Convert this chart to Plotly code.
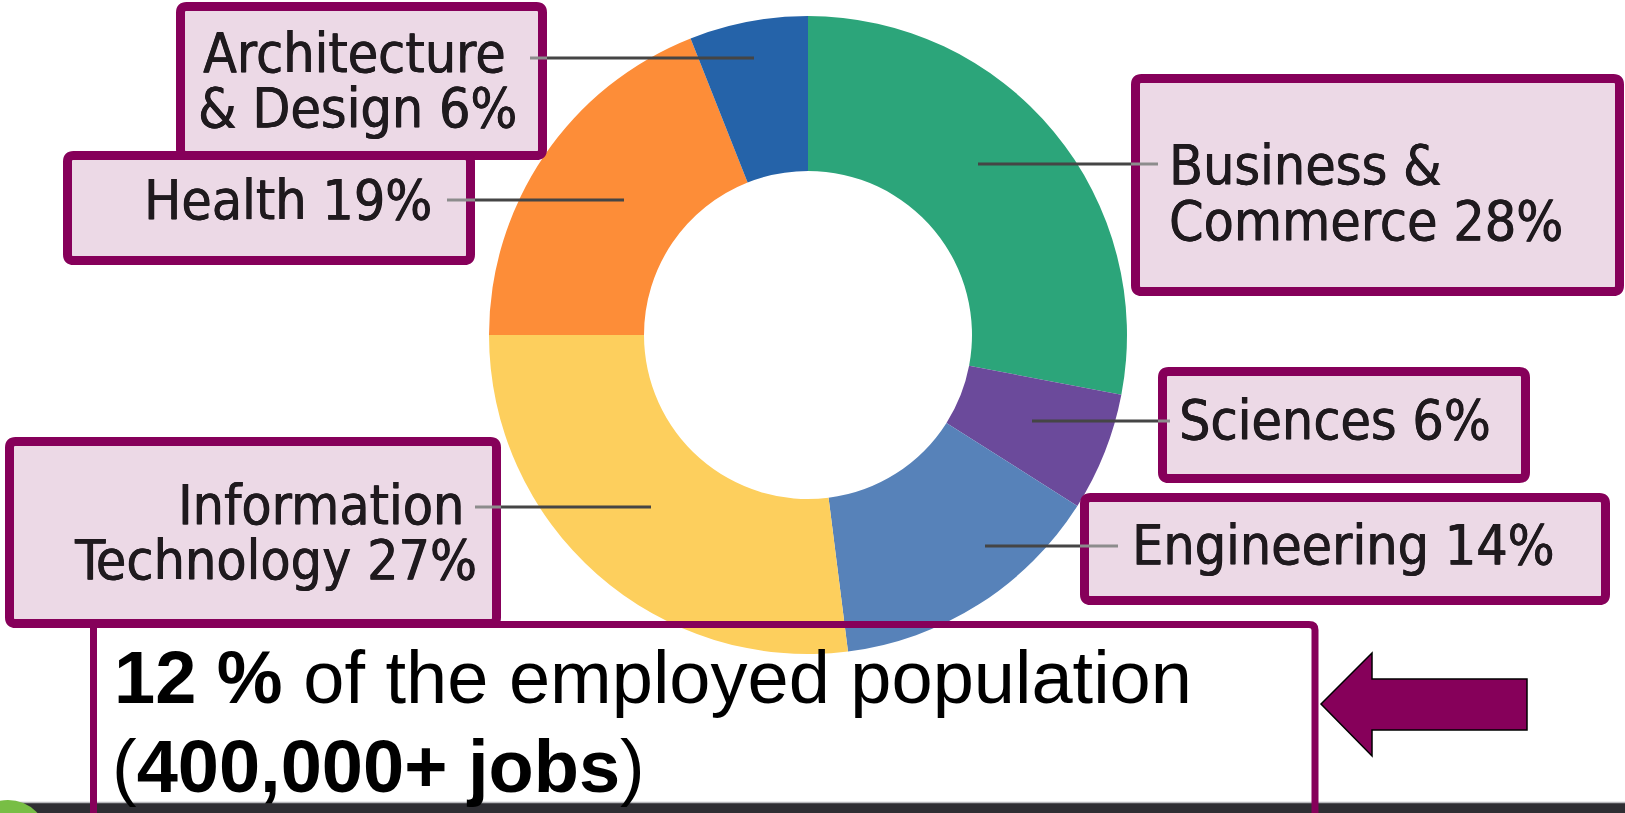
import plotly.graph_objects as go

W, H = 1625, 813

# ---- data ---------------------------------------------------------------
categories = ["Business & Commerce", "Sciences", "Engineering",
              "Information Technology", "Health", "Architecture & Design"]
shares = [28, 6, 14, 27, 19, 6]
slice_colors = ["#2ca57a", "#6b4a9b", "#5782b9", "#fdcf5d", "#fd8d38", "#2563a9"]
label_lines = [["Business &", "Commerce"], ["Sciences"], ["Engineering"],
               ["Information", "Technology"], ["Health"], ["Architecture", "& Design"]]

employed_share = "12 %"
employed_text = " of the employed population"
jobs_text = "400,000+ jobs"

# ---- styling / layout ---------------------------------------------------
MAROON = "#86005a"
BOX_FILL = "#ecd9e6"
TEXT_DARK = "#1f1a1e"
LEADER = "#454545"
LABEL_FONT = "DejaVu Sans Condensed, Liberation Sans Narrow, DejaVu Sans, sans-serif"
LABEL_SIZE = 55
LABEL_SHADOW = "0.5px 0px 0px #1f1a1e, -0.3px 0px 0px #1f1a1e"
BODY_FONT = "Liberation Sans, Arial, sans-serif"
BODY_SIZE = 74

CX, CY, R_OUT, R_IN = 808, 335, 319, 164

# per-category label placement: box, text anchor, line centres, leader line
label_layout = {
    "Business & Commerce": dict(box=(1131, 74, 1624, 296), side="left", tx=1167,
                                ty=[165, 221], leader=(978, 1131, 164), inner=1158),
    "Sciences": dict(box=(1158, 367, 1530, 483), side="left", tx=1177,
                     ty=[420], leader=(1032, 1158, 421), inner=1170),
    "Engineering": dict(box=(1080, 493, 1610, 605), side="left", tx=1130,
                        ty=[545], leader=(985, 1080, 546), inner=1118),
    "Information Technology": dict(box=(5, 437, 501, 628), side="right", tx=[466, 479],
                                   ty=[505, 560], leader=(501, 651, 507), inner=475),
    "Health": dict(box=(63, 151, 475, 265), side="right", tx=[434],
                   ty=[200], leader=(475, 624, 200), inner=447),
    "Architecture & Design": dict(box=(176, 2, 547, 160), side="right", tx=[508, 519],
                                  ty=[53, 108], leader=(547, 754, 58), inner=530),
}
draw_order = ["Architecture & Design", "Health", "Business & Commerce",
              "Sciences", "Engineering", "Information Technology"]


def px(x):
    return x / W


def py(y):
    return 1 - y / H


def rounded_rect(x0, y0, x1, y1, r):
    pts = [
        f"M {px(x0 + r)},{py(y0)}",
        f"L {px(x1 - r)},{py(y0)}",
        f"Q {px(x1)},{py(y0)} {px(x1)},{py(y0 + r)}",
        f"L {px(x1)},{py(y1 - r)}",
        f"Q {px(x1)},{py(y1)} {px(x1 - r)},{py(y1)}",
        f"L {px(x0 + r)},{py(y1)}",
        f"Q {px(x0)},{py(y1)} {px(x0)},{py(y1 - r)}",
        f"L {px(x0)},{py(y0 + r)}",
        f"Q {px(x0)},{py(y0)} {px(x0 + r)},{py(y0)}",
        "Z",
    ]
    return " ".join(pts)


fig = go.Figure()

fig.add_trace(go.Pie(
    labels=categories,
    values=shares,
    marker=dict(colors=slice_colors, line=dict(width=0)),
    hole=R_IN / R_OUT,
    sort=False,
    direction="clockwise",
    rotation=0,
    textinfo="none",
    hoverinfo="label+percent",
    showlegend=False,
    domain=dict(x=[px(CX - R_OUT), px(CX + R_OUT)],
                y=[py(CY + R_OUT), py(CY - R_OUT)]),
))

shapes = []
annotations = []

# dark footer strip with a green badge peeking in
shapes.append(dict(type="rect", xref="paper", yref="paper",
                   x0=0, x1=1, y0=py(813), y1=py(803),
                   fillcolor="#2f2e33", line=dict(width=0)))
shapes.append(dict(type="line", xref="paper", yref="paper",
                   x0=0, x1=1, y0=py(802.5), y1=py(802.5),
                   line=dict(color="#b9b9bd", width=1.5)))
shapes.append(dict(type="circle", xref="paper", yref="paper",
                   x0=px(-32), x1=px(48), y0=py(880), y1=py(800),
                   fillcolor="#78be45", line=dict(width=0)))

# open frame round the headline figure
shapes.append(dict(type="path", xref="paper", yref="paper",
                   path=(f"M {px(93.5)},{py(830)} L {px(93.5)},{py(624.5)} "
                         f"L {px(1309)},{py(624.5)} Q {px(1315)},{py(624.5)} {px(1315)},{py(630)} "
                         f"L {px(1315)},{py(830)}"),
                   line=dict(color=MAROON, width=7)))

# arrow pointing at the headline
arrow = [(1321, 704), (1372, 653), (1372, 679), (1527, 679),
         (1527, 730), (1372, 730), (1372, 756)]
arrow_path = "M " + " L ".join(f"{px(x)},{py(y)}" for x, y in arrow) + " Z"
shapes.append(dict(type="path", xref="paper", yref="paper", path=arrow_path,
                   fillcolor=MAROON, line=dict(color="#000000", width=1.5)))

# labelled callout boxes with leader lines
lw = 9
for cat in draw_order:
    spec = label_layout[cat]
    x0, y0, x1, y1 = spec["box"]
    h = lw / 2
    shapes.append(dict(type="path", xref="paper", yref="paper",
                       path=rounded_rect(x0 + h, y0 + h, x1 - h, y1 - h, 6),
                       fillcolor=BOX_FILL, line=dict(color=MAROON, width=lw)))

for cat in draw_order:
    i = categories.index(cat)
    spec = label_layout[cat]
    lx0, lx1, ly = spec["leader"]
    shapes.append(dict(type="line", xref="paper", yref="paper",
                       x0=px(lx0), x1=px(lx1), y0=py(ly), y1=py(ly),
                       line=dict(color=LEADER, width=3)))
    if spec["side"] == "left":
        ix0, ix1 = spec["box"][0], spec["inner"]
    else:
        ix0, ix1 = spec["inner"], spec["box"][2]
    shapes.append(dict(type="line", xref="paper", yref="paper",
                       x0=px(ix0), x1=px(ix1), y0=py(ly), y1=py(ly),
                       line=dict(color="#8c8c8c", width=3)))

    lines = list(label_lines[i])
    lines[-1] = f"{lines[-1]} {shares[i]}%"
    for k, txt in enumerate(lines):
        if spec["side"] == "left":
            xa, xanchor = spec["tx"], "left"
        else:
            xa, xanchor = spec["tx"][k], "right"
        annotations.append(dict(
            xref="paper", yref="paper", x=px(xa), y=py(spec["ty"][k]),
            xanchor=xanchor, yanchor="middle", showarrow=False, text=txt,
            font=dict(family=LABEL_FONT, size=LABEL_SIZE, color=TEXT_DARK,
                      shadow=LABEL_SHADOW)))

# headline text
annotations.append(dict(
    xref="paper", yref="paper", x=px(112), y=py(677), xanchor="left", yanchor="middle",
    showarrow=False, text=f"<b>{employed_share}</b>{employed_text}",
    font=dict(family=BODY_FONT, size=BODY_SIZE, color="#000000")))
annotations.append(dict(
    xref="paper", yref="paper", x=px(110), y=py(766), xanchor="left", yanchor="middle",
    showarrow=False, text=f"(<b>{jobs_text}</b>)",
    font=dict(family=BODY_FONT, size=BODY_SIZE, color="#000000")))

fig.update_layout(
    width=W, height=H,
    margin=dict(l=0, r=0, t=0, b=0),
    paper_bgcolor="#ffffff",
    plot_bgcolor="#ffffff",
    shapes=shapes,
    annotations=annotations,
    xaxis=dict(visible=False),
    yaxis=dict(visible=False),
)

fig.write_html("out.html", config=dict(displayModeBar=False))
